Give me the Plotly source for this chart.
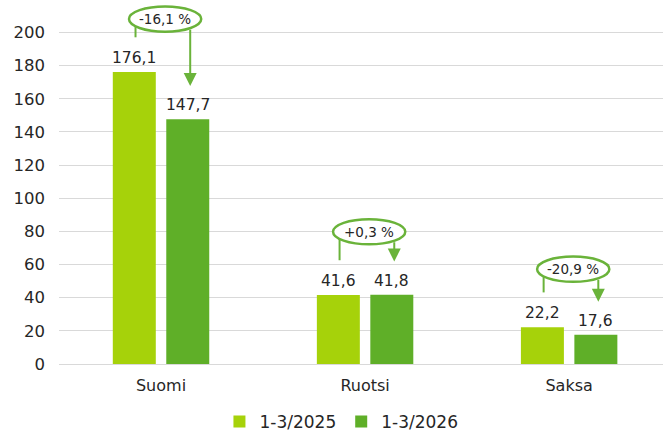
import math
import plotly.graph_objects as go

categories = ["Suomi", "Ruotsi", "Saksa"]
series_names = ["1-3/2025", "1-3/2026"]
values_2025 = [176.1, 41.6, 22.2]
values_2026 = [147.7, 41.8, 17.6]
change_labels = ["-16,1 %", "+0,3 %", "-20,9 %"]
y_ticks = [0, 20, 40, 60, 80, 100, 120, 140, 160, 180, 200]

# layout: lift of each change bubble above the taller bar (axis units)
bubble_lift = [32, 38, 35]

C_LIGHT = "#A6D20A"
C_DARK = "#5FAF28"
C_ANN = "#6AB33A"
TXT = "#262626"
FONT = "DejaVu Sans"

xpos = list(range(len(categories)))
fig = go.Figure()
for name, vals, col in [(series_names[0], values_2025, C_LIGHT), (series_names[1], values_2026, C_DARK)]:
    fig.add_trace(go.Bar(x=xpos, y=vals, name=name, marker=dict(color=col, line=dict(width=0)),
                         hoverinfo="skip"))

OFF = 0.131
shapes = []
annotations = []

def fmt(v):
    return f"{v:.1f}".replace(".", ",")

for i in xpos:
    v1, v2 = values_2025[i], values_2026[i]
    annotations.append(dict(x=i - OFF, y=v1, text=fmt(v1), showarrow=False, yanchor="bottom", yshift=3,
                            font=dict(size=15.5, color=TXT, family=FONT)))
    annotations.append(dict(x=i + OFF, y=v2, text=fmt(v2), showarrow=False, yanchor="bottom", yshift=3,
                            font=dict(size=15.5, color=TXT, family=FONT)))
    # ellipse
    cx = i + 0.02
    cy = max(v1, v2) + bubble_lift[i]
    a, b = 0.177, 7.6
    lx = i - OFF + 0.006
    rx = i + OFF + 0.012
    ly0 = cy - b * math.sqrt(max(0.0, 1 - ((lx - cx) / a) ** 2))
    ry0 = cy - b * math.sqrt(max(0.0, 1 - ((rx - cx) / a) ** 2))
    shapes.append(dict(type="line", xref="x", yref="y", x0=lx, x1=lx, y0=ly0, y1=v1 + 21,
                       line=dict(color=C_ANN, width=2)))
    shapes.append(dict(type="circle", xref="x", yref="y", x0=cx - a, x1=cx + a, y0=cy - b, y1=cy + b,
                       fillcolor="white", line=dict(color=C_ANN, width=2.5)))
    annotations.append(dict(x=rx, y=v2 + 20, ax=rx, ay=ry0, xref="x", yref="y", axref="x", ayref="y",
                            text="", showarrow=True, arrowhead=2, arrowsize=1.3, arrowwidth=2,
                            arrowcolor=C_ANN))
    annotations.append(dict(x=cx, y=cy, text=change_labels[i], showarrow=False,
                            font=dict(size=13.5, color=TXT, family=FONT)))

fig.update_layout(
    width=663, height=436,
    margin=dict(l=59, r=0, t=2, b=72, autoexpand=False),
    paper_bgcolor="white", plot_bgcolor="white",
    barmode="group", bargap=0.476, bargroupgap=0.196,
    font=dict(family=FONT, size=16, color=TXT),
    shapes=shapes, annotations=annotations,
    showlegend=True, hovermode=False,
    legend=dict(orientation="h", xref="container", yref="container", x=0.515, xanchor="center",
                y=0.032, yanchor="middle", itemwidth=30, tracegroupgap=0,
                font=dict(size=17, color=TXT, family=FONT), traceorder="normal"),
    xaxis=dict(range=[-0.5, 2.46], tickvals=xpos, ticktext=categories, showgrid=False,
               zeroline=False, showline=False, ticks="", ticklabelstandoff=10, automargin=False,
               tickfont=dict(size=16, color=TXT, family=FONT), fixedrange=True),
    yaxis=dict(range=[0, 218.4], tickvals=y_ticks, showgrid=True, gridcolor="#D9D9D9", gridwidth=1,
               zeroline=True, zerolinecolor="#D9D9D9", zerolinewidth=1, showline=False, ticks="",
               ticklabelstandoff=13, automargin=False,
               tickfont=dict(size=16.5, color=TXT, family=FONT), fixedrange=True),
)

fig.write_html("out.html", config={"displayModeBar": False},
               post_script="document.body.style.margin='0';")
